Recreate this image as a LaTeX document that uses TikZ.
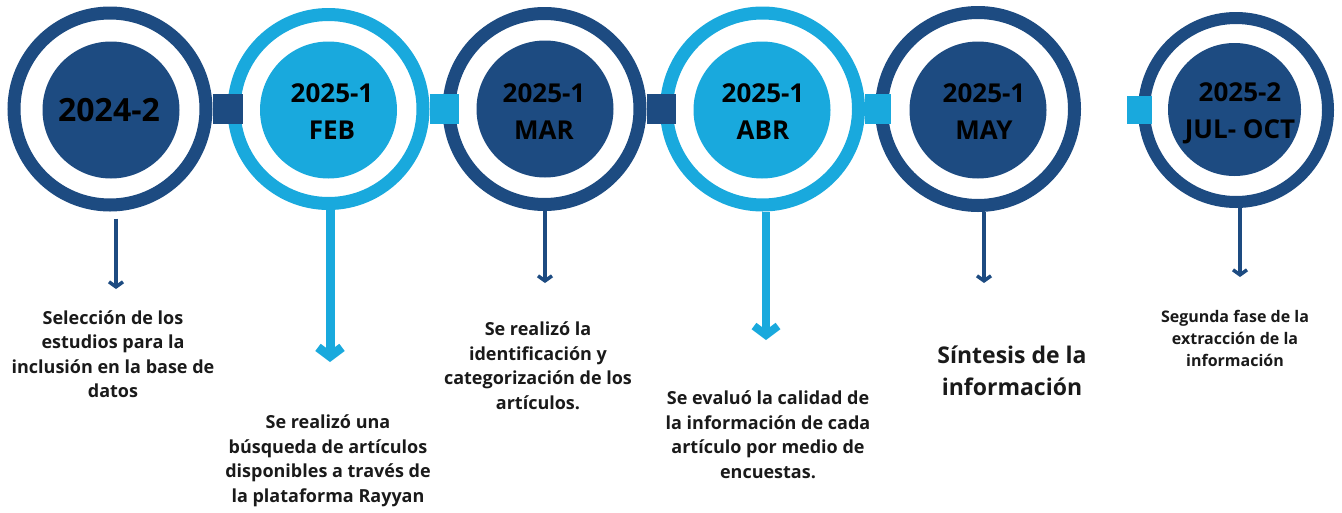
\documentclass[tikz,border=0pt]{standalone}
\usepackage{fontspec}
\setmainfont{Open Sans}
\usetikzlibrary{arrows.meta,calc}
\definecolor{dk}{HTML}{1D4B81}
\definecolor{lt}{HTML}{19A9DD}
\definecolor{txt}{HTML}{1A1A1A}
\begin{document}
\begin{tikzpicture}[x=1pt,y=-1pt,
  ring/.style={circle,draw=#1,line width=13pt,minimum size=192pt,inner sep=0pt,outer sep=6.5pt},
  disc/.style={circle,fill=#1,minimum size=137pt,inner sep=0pt},
  yr/.style={font=\bfseries\fontsize{26}{37}\selectfont,align=center,text=black,inner sep=0pt},
  desc/.style={font=\bfseries\fontsize{18}{24.5}\selectfont,align=center,text=txt,inner sep=0pt},
  thinarrow/.style={draw=dk,line width=3.5pt,-{Straight Barb[length=5pt,width=14pt]}},
  thickarrow/.style={draw=lt,line width=#1,-{Straight Barb[length=9pt,width=24pt]}},
  thickarrow/.default=9pt,
]
\useasboundingbox (0,0) rectangle (1342,512);
% rings
\node[ring=dk] (c1) at (110,109) {};
\node[ring=lt,minimum size=189pt] (c2) at (328.5,109) {};
\node[ring=dk,minimum size=191pt] (c3) at (544.5,109) {};
\node[ring=lt] (c4) at (762.5,109) {};
\node[ring=dk,minimum size=193pt] (c5) at (978,109) {};
\node[ring=dk,line width=12pt,outer sep=6pt,minimum size=184pt] (c6) at (1236,110) {};
% discs
\node[disc=dk] (d1) at (111,110) {};
\node[disc=lt] (d2) at (328.5,110) {};
\node[disc=dk] (d3) at (545,109) {};
\node[disc=lt] (d4) at (762,110) {};
\node[disc=dk] (d5) at (978,110) {};
\node[disc=dk,minimum size=133pt] (d6) at (1234.5,109.5) {};
% links
\draw[dk,line width=30pt] (c1.east) -- ([xshift=15pt]c2.west);
\draw[lt,line width=30pt] (c2.east) -- ([xshift=16pt]c3.west);
\draw[dk,line width=30pt] (c3.east) -- ([xshift=16pt]c4.west);
\draw[lt,line width=30pt] (c4.east) -- ([xshift=16pt]c5.west);
\node[fill=lt,minimum width=25pt,minimum height=28pt,inner sep=0pt] (sq) at ([xshift=1.5pt]c6.west) {};
% year labels
\node[yr,font=\bfseries\fontsize{32}{37}\selectfont] (t1) at (109,110) {2024-2};
\node[yr] (t2) at (332,111.5) {2025-1\\FEB};
\node[yr] (t3) at (544,112) {2025-1\\MAR};
\node[yr] (t4) at (763,112) {2025-1\\ABR};
\node[yr] (t5) at (984,112) {2025-1\\MAY};
\node[yr] (t6) at (1240,113) {2025-2\\JUL- OCT};
% arrow ends
\coordinate (e1) at (116,289);
\coordinate (e2) at (330,362);
\coordinate (e3) at (545,283);
\coordinate (e4) at (766,340);
\coordinate (e5) at (984,283);
\coordinate (e6) at (1240,277);
\draw[thinarrow] ([yshift=-7pt]c1.south -| e1) -- (e1);
\draw[thickarrow] (c2.south -| e2) -- (e2);
\draw[thinarrow] (c3.south -| e3) -- (e3);
\draw[thickarrow=8pt] (c4.south -| e4) -- (e4);
\draw[thinarrow] (c5.south -| e5) -- (e5);
\draw[thinarrow] (c6.south -| e6) -- (e6);
% descriptions
\node[desc] (x1) at (113,354) {Selección de los\\estudios para la\\inclusión en la base de\\datos};
\node[desc] (x2) at (328,461) {Se realizó una\\búsqueda de artículos\\disponibles a través de\\la plataforma Rayyan};
\node[desc] (x3) at (538,365.5) {Se realizó la\\identificación y\\categorización de los\\artículos.};
\node[desc] (x4) at (768,434.5) {Se evaluó la calidad de\\la información de cada\\artículo por medio de\\encuestas.};
\node[desc,font=\bfseries\fontsize{23}{32}\selectfont] (x5) at (1012,371) {Síntesis de la\\información};
\node[desc,font=\bfseries\fontsize{16}{22}\selectfont] (x6) at (1235,338.5) {Segunda fase de la\\extracción de la\\información};
\end{tikzpicture}
\end{document}
